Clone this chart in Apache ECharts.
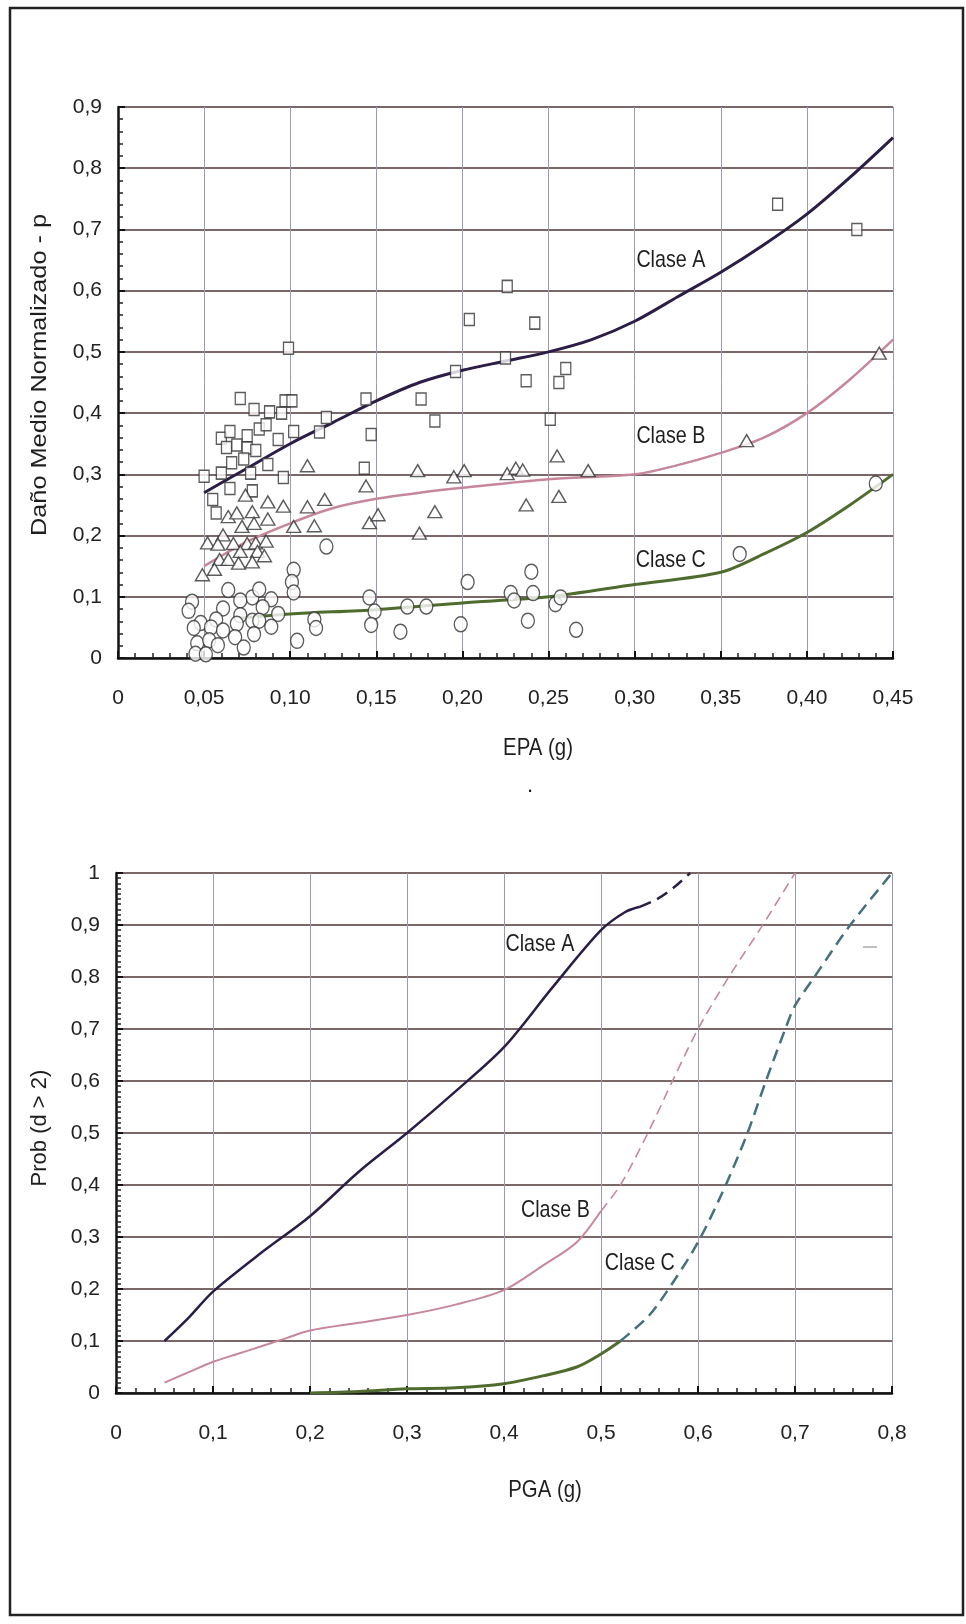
<!DOCTYPE html>
<html>
<head>
<meta charset="utf-8">
<script src="https://cdn.jsdelivr.net/npm/echarts@6/dist/echarts.min.js"></script>
<style>
  html, body { margin: 0; padding: 0; background: #fff; }
  #chart { width: 966px; height: 1624px; }
</style>
</head>
<body>
<div id="chart"></div>
<script>
// ---- tick labels ----
const topXTicks = ['0', '0,05', '0,10', '0,15', '0,20', '0,25', '0,30', '0,35', '0,40', '0,45']
const topYTicks = ['0', '0,1', '0,2', '0,3', '0,4', '0,5', '0,6', '0,7', '0,8', '0,9']
const botXTicks = ['0', '0,1', '0,2', '0,3', '0,4', '0,5', '0,6', '0,7', '0,8']
const botYTicks = ['0', '0,1', '0,2', '0,3', '0,4', '0,5', '0,6', '0,7', '0,8', '0,9', '1']

// ---- grafico superior: daño medio vs EPA ----
const aFitX = [0.05, 0.075, 0.10, 0.125, 0.15, 0.175, 0.20, 0.225, 0.25, 0.275, 0.30, 0.325, 0.35, 0.375, 0.40, 0.425, 0.45]
const aFitY = [0.27, 0.31, 0.35, 0.385, 0.42, 0.45, 0.47, 0.485, 0.50, 0.52, 0.55, 0.59, 0.63, 0.675, 0.725, 0.785, 0.85]
const bFitX = [0.05, 0.075, 0.10, 0.125, 0.15, 0.175, 0.20, 0.25, 0.30, 0.325, 0.35, 0.375, 0.40, 0.425, 0.45]
const bFitY = [0.15, 0.19, 0.22, 0.245, 0.26, 0.27, 0.278, 0.292, 0.30, 0.315, 0.335, 0.36, 0.40, 0.455, 0.52]
const cFitX = [0.07, 0.10, 0.15, 0.20, 0.25, 0.30, 0.35, 0.375, 0.40, 0.425, 0.45]
const cFitY = [0.065, 0.072, 0.079, 0.09, 0.10, 0.12, 0.14, 0.17, 0.205, 0.25, 0.30]

const sqX = [0.071, 0.079, 0.088, 0.097, 0.101, 0.095, 0.121, 0.144, 0.176, 0.184, 0.060, 0.065, 0.075, 0.082, 0.086, 0.093,
  0.102, 0.117, 0.147, 0.063, 0.069, 0.075, 0.080, 0.066, 0.073, 0.087, 0.050, 0.060, 0.077, 0.096, 0.143, 0.065, 0.078,
  0.055, 0.057, 0.099, 0.204, 0.226, 0.196, 0.225, 0.242, 0.260, 0.237, 0.256, 0.251, 0.383, 0.429]
const sqY = [0.424, 0.406, 0.402, 0.420, 0.420, 0.400, 0.393, 0.423, 0.423, 0.387, 0.359, 0.370, 0.363, 0.374, 0.381, 0.357,
  0.370, 0.369, 0.365, 0.344, 0.348, 0.343, 0.339, 0.319, 0.325, 0.316, 0.297, 0.302, 0.302, 0.295, 0.310, 0.277, 0.273,
  0.259, 0.237, 0.506, 0.553, 0.607, 0.468, 0.490, 0.547, 0.473, 0.453, 0.450, 0.390, 0.741, 0.700]

const triX = [0.110, 0.174, 0.195, 0.201, 0.226, 0.231, 0.144, 0.074, 0.087, 0.096, 0.110, 0.120, 0.184, 0.064, 0.069, 0.078,
  0.072, 0.079, 0.087, 0.102, 0.114, 0.146, 0.151, 0.175, 0.061, 0.052, 0.058, 0.067, 0.075, 0.080, 0.086, 0.071, 0.081,
  0.059, 0.064, 0.070, 0.078, 0.085, 0.056, 0.049, 0.235, 0.255, 0.273, 0.237, 0.256, 0.365, 0.442]
const triY = [0.314, 0.306, 0.296, 0.306, 0.301, 0.310, 0.281, 0.266, 0.255, 0.248, 0.247, 0.259, 0.239, 0.231, 0.237, 0.239,
  0.215, 0.220, 0.227, 0.215, 0.216, 0.221, 0.234, 0.204, 0.201, 0.188, 0.186, 0.187, 0.187, 0.188, 0.191, 0.174, 0.174,
  0.161, 0.161, 0.155, 0.157, 0.167, 0.145, 0.136, 0.307, 0.330, 0.306, 0.250, 0.264, 0.355, 0.498]

const cirX = [0.121, 0.102, 0.101, 0.102, 0.064, 0.078, 0.082, 0.089, 0.071, 0.043, 0.041, 0.061, 0.084, 0.093, 0.057, 0.071,
  0.078, 0.082, 0.048, 0.044, 0.054, 0.061, 0.069, 0.089, 0.079, 0.068, 0.046, 0.053, 0.058, 0.073, 0.045, 0.051, 0.114,
  0.115, 0.104, 0.146, 0.149, 0.147, 0.164, 0.168, 0.179, 0.199, 0.203, 0.228, 0.230, 0.240, 0.241, 0.238, 0.254, 0.257,
  0.266, 0.361, 0.440]
const cirY = [0.182, 0.144, 0.124, 0.107, 0.111, 0.099, 0.112, 0.096, 0.094, 0.092, 0.077, 0.081, 0.083, 0.072, 0.063, 0.070,
  0.061, 0.061, 0.057, 0.049, 0.050, 0.045, 0.056, 0.051, 0.039, 0.034, 0.024, 0.029, 0.021, 0.017, 0.007, 0.006, 0.063,
  0.049, 0.028, 0.099, 0.076, 0.054, 0.043, 0.084, 0.084, 0.055, 0.124, 0.106, 0.094, 0.141, 0.106, 0.061, 0.088, 0.099,
  0.046, 0.170, 0.285]

// ---- grafico inferior: Prob (d > 2) vs PGA ----
const pA_X = [0.05, 0.075, 0.10, 0.15, 0.20, 0.25, 0.30, 0.35, 0.40, 0.45, 0.50, 0.525, 0.54]
const pA_Y = [0.10, 0.145, 0.195, 0.27, 0.34, 0.425, 0.50, 0.58, 0.665, 0.78, 0.89, 0.925, 0.935]
const pA_dashX = [0.54, 0.557, 0.575, 0.592]
const pA_dashY = [0.935, 0.949, 0.972, 1.0]
const pB_X = [0.05, 0.075, 0.10, 0.125, 0.15, 0.175, 0.20, 0.25, 0.30, 0.35, 0.40, 0.44, 0.475, 0.50]
const pB_Y = [0.02, 0.04, 0.06, 0.075, 0.09, 0.105, 0.12, 0.135, 0.15, 0.17, 0.198, 0.245, 0.29, 0.35]
const pB_dashX = [0.50, 0.52, 0.547, 0.575, 0.60, 0.63, 0.665, 0.70]
const pB_dashY = [0.35, 0.40, 0.495, 0.605, 0.70, 0.795, 0.895, 1.0]
const pC_X = [0.20, 0.25, 0.30, 0.35, 0.40, 0.44, 0.475, 0.50, 0.52]
const pC_Y = [0.0, 0.003, 0.008, 0.01, 0.018, 0.033, 0.05, 0.075, 0.10]
const pC_dashX = [0.52, 0.55, 0.575, 0.60, 0.625, 0.65, 0.67, 0.69, 0.70, 0.72, 0.755, 0.80]
const pC_dashY = [0.10, 0.15, 0.215, 0.29, 0.385, 0.495, 0.60, 0.70, 0.745, 0.80, 0.895, 1.0]

// etiquetas de curvas (coordenadas de datos)
const topNotes = [
  { name: 'Clase A', value: [0.321, 0.650] },
  { name: 'Clase B', value: [0.321, 0.362] },
  { name: 'Clase C', value: [0.321, 0.160] }
]
const botNotes = [
  { name: 'Clase A', value: [0.437, 0.862] },
  { name: 'Clase B', value: [0.453, 0.351] },
  { name: 'Clase C', value: [0.540, 0.249] }
]

const zip = (xs, ys) => xs.map((x, i) => [x, ys[i]])

const SANS = "'Liberation Sans', Arial, sans-serif"
const hGrid = { color: '#4e3535', width: 1.5 }
const vGrid = { color: '#9a9ab2', width: 1 }
const markerEdge = '#333333'
const ellipse = 'path://M0,-1A1,1,0,1,1,0,1A1,1,0,1,1,0,-1Z'

function valueAxis(gridIndex, min, max, interval, ticks, minorSplit, isX) {
  return {
    type: 'value',
    gridIndex: gridIndex,
    min: min,
    max: max,
    interval: interval,
    axisLine: { show: true, onZero: false, lineStyle: { color: '#111', width: 2.5 } },
    axisTick: { show: true, inside: true, length: 7, lineStyle: { color: '#111', width: 2 } },
    minorTick: { show: true, splitNumber: minorSplit, length: 5, lineStyle: { color: '#222', width: 1.5 } },
    axisLabel: {
      margin: isX ? 30 : 16,
      fontFamily: SANS,
      fontSize: 21,
      color: '#222',
      formatter: v => ticks[Math.round(v / interval)]
    },
    splitLine: { show: true, lineStyle: isX ? vGrid : hGrid }
  }
}

function fitLine(name, data, xi, color, width, dashed) {
  return {
    name: name,
    type: 'line',
    xAxisIndex: xi,
    yAxisIndex: xi,
    data: data,
    smooth: 0.3,
    showSymbol: false,
    silent: true,
    lineStyle: { color: color, width: width, type: dashed ? dashed : 'solid' },
    z: 3
  }
}

function points(data, symbol, size) {
  return {
    type: 'scatter',
    xAxisIndex: 0,
    yAxisIndex: 0,
    data: data,
    symbol: symbol,
    symbolSize: size,
    silent: true,
    itemStyle: { color: '#ffffff', borderColor: markerEdge, borderWidth: 1.4 },
    z: 4
  }
}

// texto condensado (el original es alto y estrecho)
function label(text, x, y, size, sx, rot) {
  return {
    type: 'text',
    x: x,
    y: y,
    scaleX: sx,
    rotation: rot || 0,
    z: 10,
    silent: true,
    style: { text: text, font: size + 'px ' + SANS, fill: '#1e1e1e', align: 'center', verticalAlign: 'middle' }
  }
}

const myChart = echarts.init(document.getElementById('chart'), null, { renderer: 'canvas' })
myChart.setOption({
  backgroundColor: '#ffffff',
  animation: false,
  grid: [
    { left: 118, top: 107, width: 775, height: 551 },
    { left: 116, top: 873, width: 776, height: 520 }
  ],
  xAxis: [
    valueAxis(0, 0, 0.45, 0.05, topXTicks, 5, true),
    valueAxis(1, 0, 0.8, 0.1, botXTicks, 5, true)
  ],
  yAxis: [
    valueAxis(0, 0, 0.9, 0.1, topYTicks, 5, false),
    valueAxis(1, 0, 1, 0.1, botYTicks, 10, false)
  ],
  series: [
    // superior
    fitLine('Clase A', zip(aFitX, aFitY), 0, '#2b1d45', 3),
    fitLine('Clase B', zip(bFitX, bFitY), 0, '#c7879a', 2.5),
    fitLine('Clase C', zip(cFitX, cFitY), 0, '#4f6b2e', 3),
    points(zip(sqX, sqY), 'rect', [10, 12]),
    points(zip(triX, triY), 'triangle', [14, 12]),
    points(zip(cirX, cirY), ellipse, [13, 15]),
    // inferior
    fitLine('Clase A', zip(pA_X, pA_Y), 1, '#2b1d45', 2.5),
    fitLine('Clase A', zip(pA_dashX, pA_dashY), 1, '#2b1d45', 2.5, [12, 7]),
    fitLine('Clase B', zip(pB_X, pB_Y), 1, '#c7879a', 2),
    fitLine('Clase B', zip(pB_dashX, pB_dashY), 1, '#c7879a', 1.6, [10, 6]),
    fitLine('Clase C', zip(pC_X, pC_Y), 1, '#4f6b2e', 3),
    fitLine('Clase C', zip(pC_dashX, pC_dashY), 1, '#45707c', 2.5, [12, 7])
  ]
})

// textos: los de curva se ubican con las escalas de cada grilla
const noteTexts = []
topNotes.forEach(n => {
  const p = myChart.convertToPixel({ gridIndex: 0 }, n.value)
  noteTexts.push(label(n.name, p[0], p[1], 24, 0.82))
})
botNotes.forEach(n => {
  const p = myChart.convertToPixel({ gridIndex: 1 }, n.value)
  noteTexts.push(label(n.name, p[0], p[1], 24, 0.82))
})

myChart.setOption({
  graphic: [
    {
      type: 'rect',
      shape: { x: 10, y: 8, width: 953, height: 1607 },
      style: { fill: null, stroke: '#222', lineWidth: 2.5 },
      silent: true
    },
    label('Daño Medio Normalizado - p', 40, 375, 22, 1.15, Math.PI / 2),
    label('EPA (g)', 538, 748, 24, 0.85),
    label('.', 530, 786, 22, 1),
    label('Prob (d > 2)', 40, 1128, 22, 1, Math.PI / 2),
    label('PGA (g)', 545, 1490, 24, 0.85),
    {
      type: 'line',
      shape: { x1: 863, y1: 947, x2: 877, y2: 947 },
      style: { stroke: '#aaa', lineWidth: 1.5 },
      silent: true
    }
  ].concat(noteTexts)
})

window.addEventListener('resize', () => {
  myChart && myChart.resize()
})
</script>
</body>
</html>
